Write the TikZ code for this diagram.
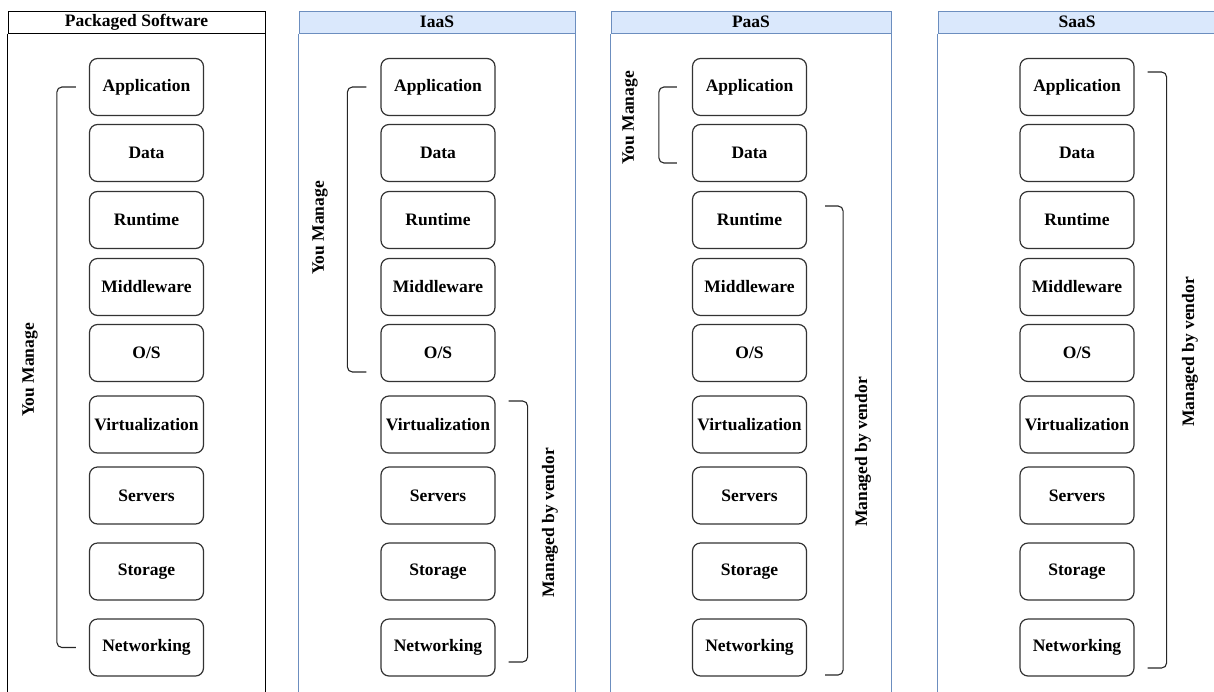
\documentclass[tikz,border=0pt]{standalone}
\usepackage{fontspec}
\setmainfont{Liberation Serif}
\usepackage{tikz}
\usepackage{xcolor}
\definecolor{hdrfill}{HTML}{DAE8FC}
\definecolor{hdrline}{HTML}{6C8EBF}

\begin{document}
\begin{tikzpicture}[x=1pt,y=-1pt,
  layer/.style={draw=black!80,line width=1.2pt,rounded corners=8pt,minimum width=114pt,minimum height=57pt,inner sep=0pt,font=\fontsize{17.5}{20}\selectfont\bfseries},
  hdr/.style={draw,line width=1pt,minimum height=22pt,inner sep=0pt,font=\fontsize{17.5}{20}\selectfont\bfseries},
  bluehdr/.style={hdr,draw=hdrline,fill=hdrfill},
  brkt/.style={draw=black!85,line width=1.1pt,rounded corners=5pt},
  side/.style={rotate=90,font=\fontsize{17.5}{20}\selectfont\bfseries}]
\useasboundingbox (0,0) rectangle (1214,691);
% column headers and sides
\node[hdr,minimum width=257pt] (psh) at (136.5,22) {Packaged Software};
\node[bluehdr,minimum width=276pt] (iaash) at (437,22) {IaaS};
\node[bluehdr,minimum width=280pt] (paash) at (751,22) {PaaS};
\node[bluehdr,minimum width=278pt] (saash) at (1077,22) {SaaS};
\draw[line width=1pt] (psh.south west) -- ++(0,670) (psh.south east) -- ++(0,670);
\foreach \c in {iaash,paash,saash}
  \draw[line width=1pt,hdrline] (\c.south west) -- ++(0,670) (\c.south east) -- ++(0,670);
% the nine layers in every column
\foreach \col/\cx in {ps/146.5,iaas/438,paas/749.5,saas/1077}
  \foreach \y/\lbl [count=\i] in {87/Application,153/Data,220/Runtime,287/Middleware,353/{O/S},424.5/Virtualization,495.5/Servers,571.5/Storage,647.5/Networking}
    \node[layer] (\col\i) at (\cx,\y) {\lbl};
% brackets
\draw[brkt] ([xshift=-13pt]ps1.west) -- ++(-19,0) |- ([xshift=-13pt]ps9.west);
\node[side] (psyou) at (30,370) {You Manage};
\draw[brkt] ([xshift=-14pt]iaas1.west) -- ++(-19,0) |- ([xshift=-14pt,yshift=-19pt]iaas5.west);
\node[side] (iaasyou) at (320,228) {You Manage};
\draw[brkt] ([xshift=13pt,yshift=23.5pt]iaas6.east) -- ++(19,0) |- ([xshift=13pt,yshift=-14.5pt]iaas9.east);
\node[side] (iaasvend) at (550,523) {Managed by vendor};
\draw[brkt] ([xshift=-15pt]paas1.west) -- ++(-18,0) |- ([xshift=-15pt,yshift=-10pt]paas2.west);
\node[side] (paasyou) at (630,118) {You Manage};
\draw[brkt] ([xshift=18pt,yshift=14pt]paas3.east) -- ++(18,0) |- ([xshift=18pt,yshift=-27.5pt]paas9.east);
\node[side] (paasvend) at (863,452) {Managed by vendor};
\draw[brkt] ([xshift=13pt,yshift=15pt]saas1.east) -- ++(19,0) |- ([xshift=13pt,yshift=-20.5pt]saas9.east);
\node[side] (saasvend) at (1190,352) {Managed by vendor};
\end{tikzpicture}
\end{document}
